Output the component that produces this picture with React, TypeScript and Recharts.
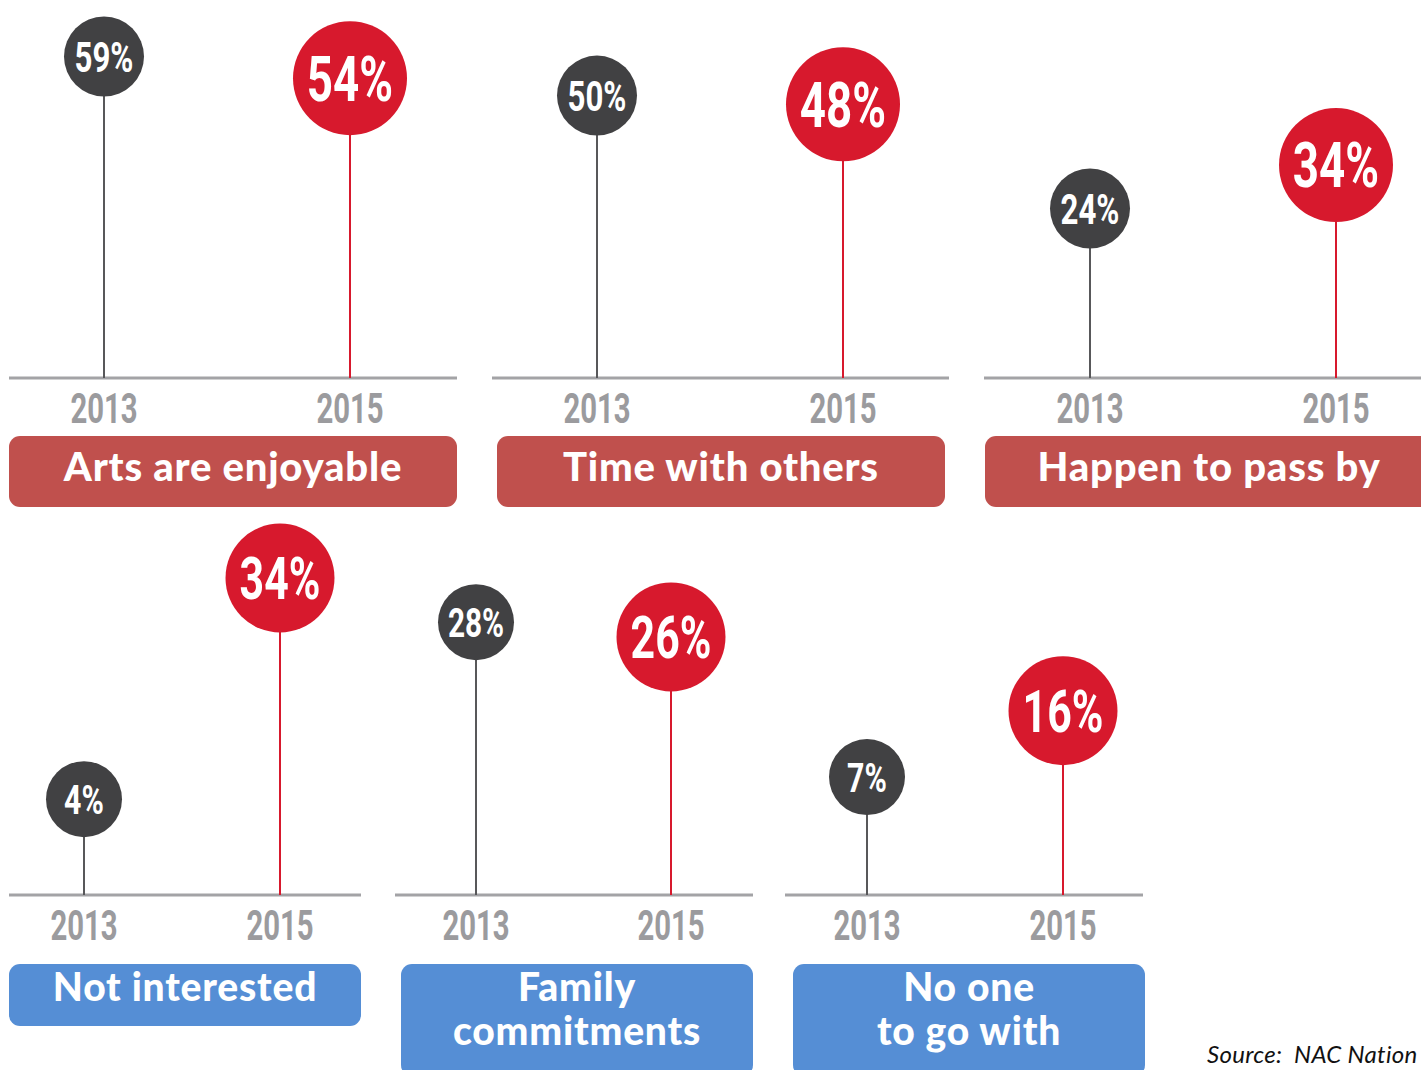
import React from 'react';
import { ComposedChart, Scatter, XAxis, YAxis } from 'recharts';

const YEARS = ['2013', '2015'];
const TOP_LABELS = [['Arts are enjoyable'], ['Time with others'], ['Happen to pass by']];
const TOP_2013 = [59, 50, 24];
const TOP_2015 = [54, 48, 34];
const BOTTOM_LABELS = [['Not interested'], ['Family', 'commitments'], ['No one', 'to go with']];
const BOTTOM_2013 = [4, 28, 7];
const BOTTOM_2015 = [34, 26, 16];

const RED = '#d7192d';
const DARK = '#414143';
const STEM_GREY = '#58585a';
const AXIS_GREY = '#a3a3a6';
const YEAR_GREY = '#9b9b9e';

// layout of the two rows of small multiples
const TOP_ROW = {
  top: 0, plotH: 378, domain: [-15, 72], rGrey: 40, rRed: 57, fsGrey: 43, fsRed: 63,
  boxTop: 436, boxH: 71, boxColor: '#c0504d', boxFont: 40, lineH: 61,
  panels: [
    { left: 9, width: 448, padL: 95, padR: 107, boxLeft: 9, boxW: 448 },
    { left: 492, width: 457, padL: 105, padR: 106, boxLeft: 497, boxW: 448 },
    { left: 984, width: 457, padL: 106, padR: 105, boxLeft: 985, boxW: 448 },
  ],
};
const BOTTOM_ROW = {
  top: 519, plotH: 376, domain: [-9, 42], rGrey: 38, rRed: 54.5, fsGrey: 41, fsRed: 59,
  boxTop: 964, boxH: 62, boxColor: '#558ed5', boxFont: 39, lineH: 44,
  panels: [
    { left: 9, width: 352, padL: 75, padR: 81, boxLeft: 9, boxW: 352 },
    { left: 395, width: 358, padL: 81, padR: 82, boxLeft: 401, boxW: 352 },
    { left: 785, width: 358, padL: 82, padR: 80, boxLeft: 793, boxW: 352 },
  ],
};

const NUM_FONT = 'Roboto, "DejaVu Sans", sans-serif';
const condensedWidth = (s: string, fs: number) =>
  s.split('').reduce((w, c) => w + (c === '%' ? 0.57 : 0.4) * fs, 0);

const YearTick = (props: any) => {
  const { x, y, payload } = props;
  const s = String(payload.value);
  return (
    <text x={x} y={y + 45} textAnchor="middle" fill={YEAR_GREY} fontFamily={NUM_FONT} fontWeight={700}
      fontSize={42} textLength={condensedWidth(s, 42)} lengthAdjust="spacingAndGlyphs">
      {s}
    </text>
  );
};

const lollipop = (row: any) => (props: any) => {
  const { cx, cy, payload } = props;
  if (cx == null || cy == null) return null;
  const is2015 = payload.year === '2015';
  const r = is2015 ? row.rRed : row.rGrey;
  const fs = is2015 ? row.fsRed : row.fsGrey;
  const label = `${payload.value}%`;
  return (
    <g>
      <line x1={cx} x2={cx} y1={cy} y2={row.plotH} stroke={is2015 ? RED : STEM_GREY} strokeWidth={2} />
      <circle cx={cx} cy={cy} r={r} fill={is2015 ? RED : DARK} />
      <text x={cx} y={cy + fs * 0.355} textAnchor="middle" fill="#fff" fontFamily={NUM_FONT} fontWeight={700}
        fontSize={fs} textLength={condensedWidth(label, fs)} lengthAdjust="spacingAndGlyphs">
        {label}
      </text>
    </g>
  );
};

const Panel = ({ row, panel, v2013, v2015, label }: any) => {
  const data = [
    { year: YEARS[0], value: v2013 },
    { year: YEARS[1], value: v2015 },
  ];
  return (
    <>
      <div style={{ position: 'absolute', left: panel.left, top: row.top }}>
        <ComposedChart width={panel.width} height={row.plotH + 60} data={data}
          margin={{ top: 0, right: 0, bottom: 0, left: 0 }} style={{ overflow: 'visible' }}>
          <XAxis dataKey="year" type="category" scale="point" padding={{ left: panel.padL, right: panel.padR }}
            axisLine={{ stroke: AXIS_GREY, strokeWidth: 3 }} tickLine={false} tickSize={0} tickMargin={0}
            height={60} interval={0} tick={<YearTick />} />
          <YAxis hide type="number" dataKey="value" domain={row.domain} allowDataOverflow />
          <Scatter dataKey="value" isAnimationActive={false} shape={lollipop(row)} />
        </ComposedChart>
      </div>
      <div style={{
        position: 'absolute', left: panel.boxLeft, top: row.boxTop, width: panel.boxW,
        height: label.length > 1 ? 112 : row.boxH, background: row.boxColor, borderRadius: 11,
        color: '#fff', fontFamily: 'Lato, "Open Sans", sans-serif', fontWeight: 900,
        fontSize: row.boxFont, lineHeight: `${row.lineH}px`, letterSpacing: 0.8, textAlign: 'center',
      }}>
        {label.map((l: string) => <div key={l}>{l}</div>)}
      </div>
    </>
  );
};

export default function App() {
  return (
    <div style={{ position: 'absolute', left: 0, top: 0, width: 1421, height: 1070, overflow: 'hidden', background: '#fff' }}>
      {TOP_ROW.panels.map((p, i) => (
        <Panel key={`t${i}`} row={TOP_ROW} panel={p} v2013={TOP_2013[i]} v2015={TOP_2015[i]} label={TOP_LABELS[i]} />
      ))}
      {BOTTOM_ROW.panels.map((p, i) => (
        <Panel key={`b${i}`} row={BOTTOM_ROW} panel={p} v2013={BOTTOM_2013[i]} v2015={BOTTOM_2015[i]} label={BOTTOM_LABELS[i]} />
      ))}
      <div style={{
        position: 'absolute', left: 1207, top: 1042, fontFamily: 'Lato, "Open Sans", sans-serif',
        fontStyle: 'italic', fontSize: 24, lineHeight: '24px', letterSpacing: 0.3, whiteSpace: 'pre', color: '#111',
      }}>
        {'Source:  NAC Nation'}
      </div>
    </div>
  );
}
